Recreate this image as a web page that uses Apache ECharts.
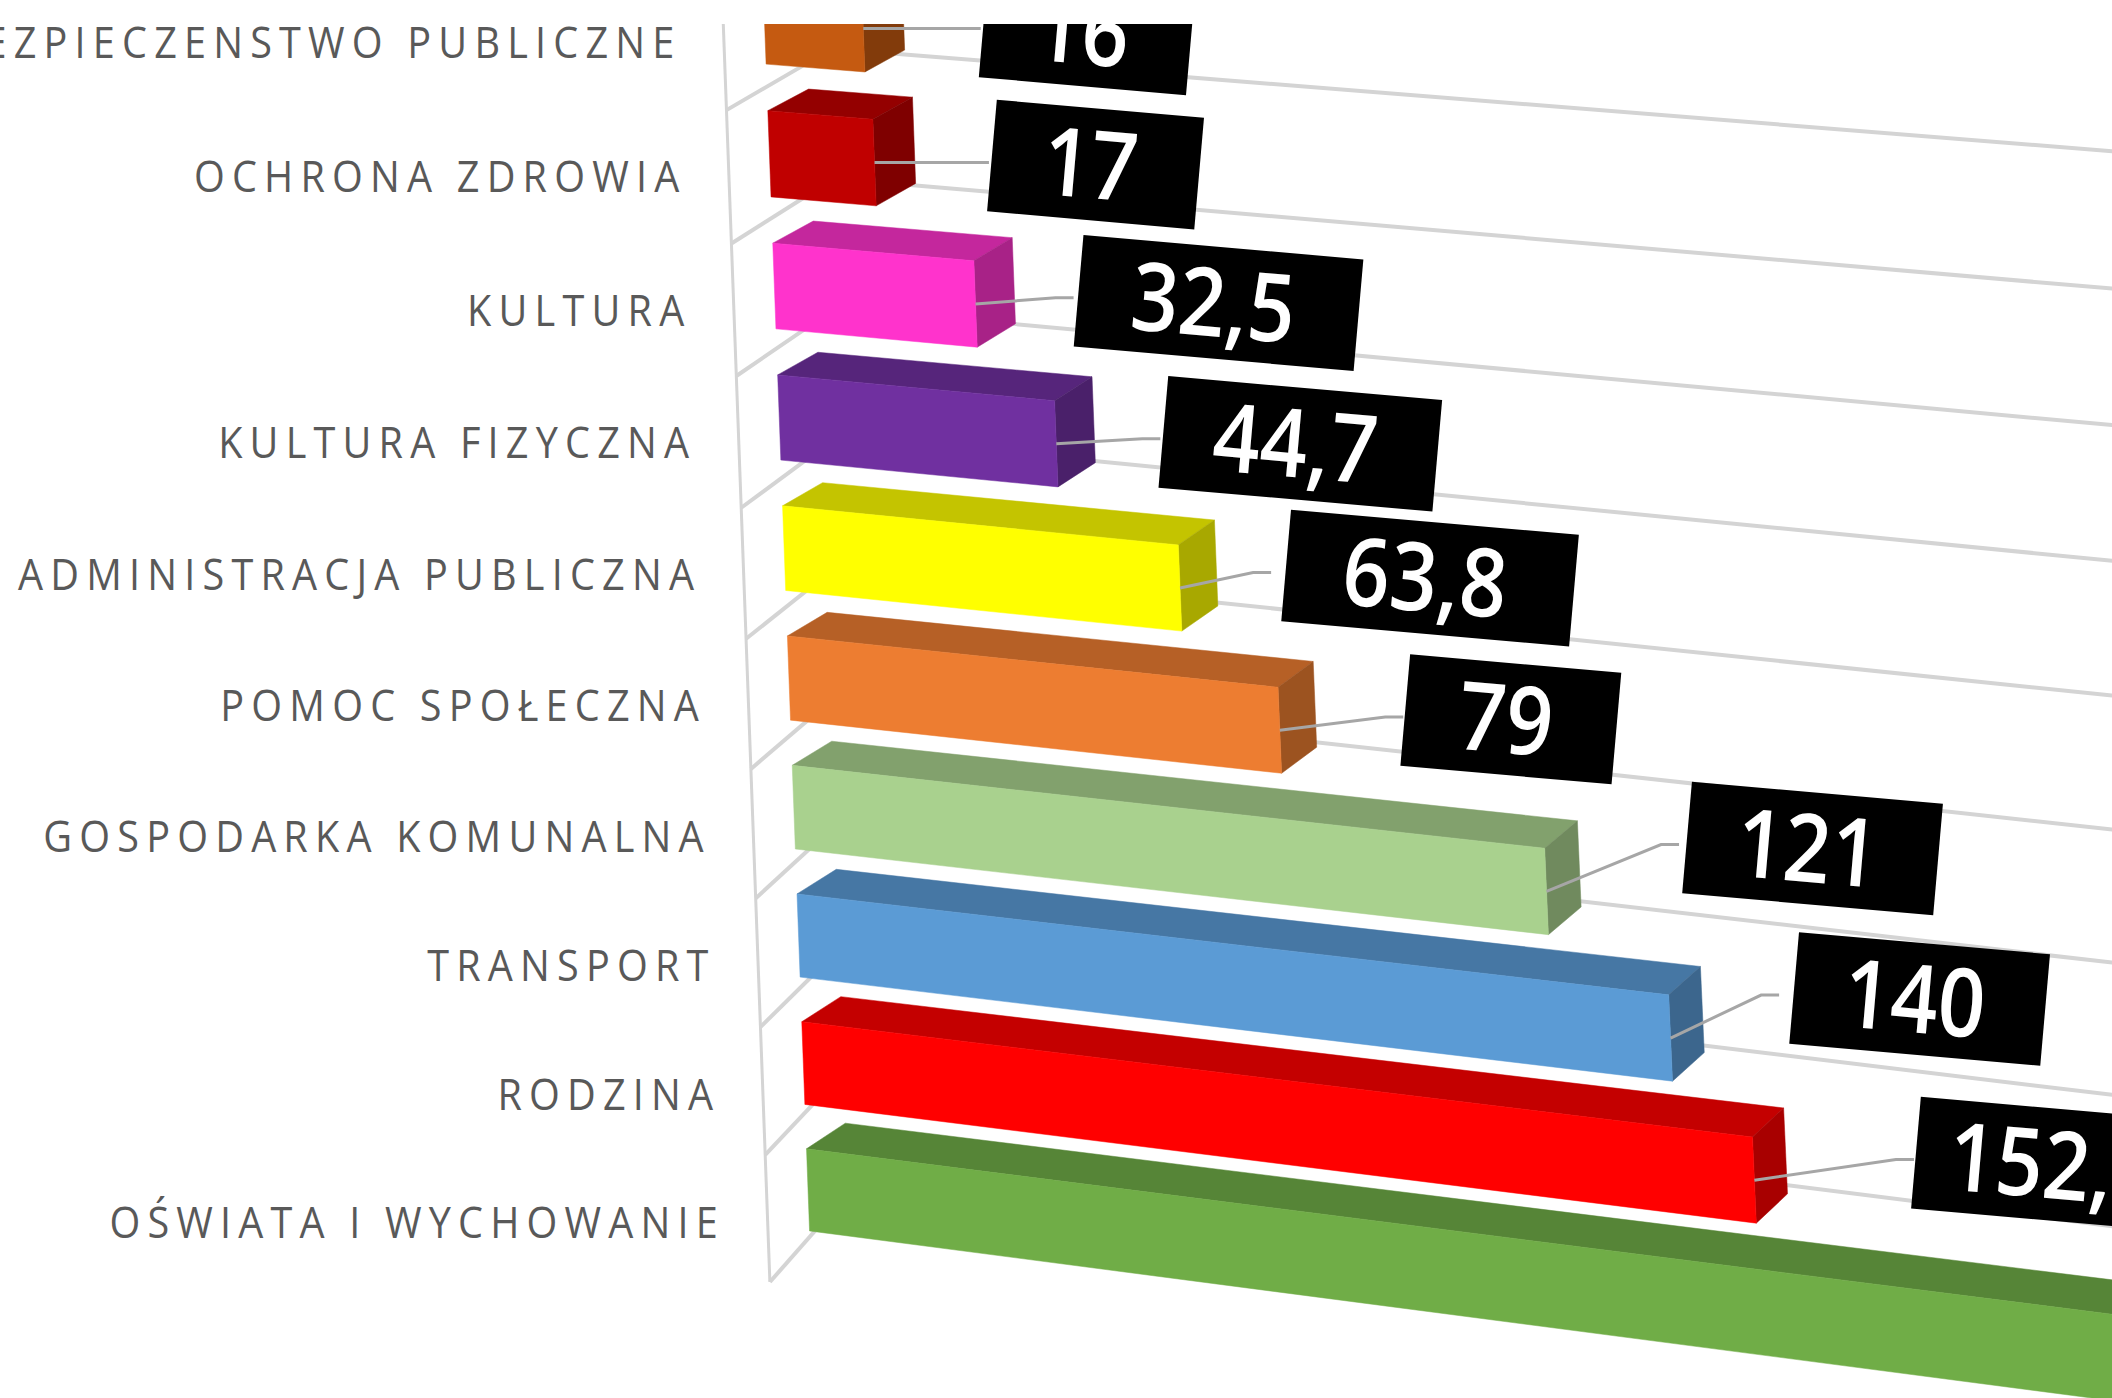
<!DOCTYPE html>
<html>
<head>
<meta charset="utf-8">
<title>Wydatki</title>
<style>
  html, body { margin: 0; background: #fff; overflow: hidden; }
  #main { width: 2112px; height: 1398px; }
  /* zrender has no letter spacing of its own, so the axis names get it here */
  #main text[fill="#595959"] { letter-spacing: 8px; }
</style>
<script src="https://cdn.jsdelivr.net/npm/echarts@6/dist/echarts.min.js"></script>
</head>
<body>
<div id="main"></div>
<script>
const categories = [
  'BEZPIECZEŃSTWO PUBLICZNE', 'OCHRONA ZDROWIA', 'KULTURA', 'KULTURA FIZYCZNA',
  'ADMINISTRACJA PUBLICZNA', 'POMOC SPOŁECZNA', 'GOSPODARKA KOMUNALNA',
  'TRANSPORT', 'RODZINA', 'OŚWIATA I WYCHOWANIE'
]
// the last bar runs off the picture, its value is only a lower guess
const values = [16, 17, 32.5, 44.7, 63.8, 79, 121, 140, 152.5, 300]
const barColors = [
  '#C55A11', '#C00000', '#FF33CC', '#7030A0', '#FFFF00',
  '#ED7D31', '#A9D18E', '#5B9BD5', '#FF0000', '#70AD47'
]
// labels were dragged by hand in the original: offset of each box from the bar end
const labelShift = [
  [224, 2], [221, 2], [243, -1], [244, 0], [250, -10],
  [231, -11], [266, -43], [249, -39], [305, -15], null
]
const labelWidth = [208, 208, 281, 275, 289, 212, 252, 252, 288, 0]
const leaderGap = [3, 3, 5, 3, 15, 2, 8, 15, 2, 0]

const axisMax = 200
const barFill = 0.65
const tilt = 5 * Math.PI / 180

// the plot is a flat grid pushed through perspective, one quad per depth plane
// corners: top left, top right, bottom right, bottom left of the grid
const frontPlane = makePlane([[762, -46], [1996, 46], [2060, 1417], [810.4, 1253]])
const backPlane = makePlane([[803, -67], [2023, 19], [2089, 1386], [849, 1227]])
const wallPlane = makePlane([[830, -82], [2050, 8.4], [2091, 1354], [851, 1190]])

function makePlane (q) {
  const [tl, tr, br, bl] = q
  return (u, w) => {
    // bands get a little thinner going down the chart
    const v = w + 0.03 * w * (1 - w)
    const top = [tl[0] + (tr[0] - tl[0]) * u, tl[1] + (tr[1] - tl[1]) * u]
    const bot = [bl[0] + (br[0] - bl[0]) * u, bl[1] + (br[1] - bl[1]) * u]
    return [top[0] + (bot[0] - top[0]) * v, top[1] + (bot[1] - top[1]) * v]
  }
}

function project (plane, sys, px, py) {
  return plane((px - sys.x) / sys.width, (py - sys.y) / sys.height)
}

// point on the slanted category axis, it sits left of the front plane
function axisPoint (sys, py) {
  const w = (py - sys.y) / sys.height
  const p = frontPlane(0, w)
  return [p[0] - 40.5, p[1] + 22 + 7 * w]
}

function shade (hex, k) {
  const n = parseInt(hex.slice(1), 16)
  const c = [n >> 16, (n >> 8) & 255, n & 255].map(v => Math.round(v * k))
  return `rgb(${c[0]},${c[1]},${c[2]})`
}

function poly (points, fill) {
  return {
    type: 'polygon',
    shape: { points },
    style: { fill, stroke: fill, lineWidth: 0.5 }
  }
}

function segment (a, b, width) {
  return {
    type: 'line',
    shape: { x1: a[0], y1: a[1], x2: b[0], y2: b[1] },
    style: { stroke: '#d4d4d4', lineWidth: width }
  }
}

function renderFrame (params, api) {
  const sys = params.coordSys
  const i = api.value(1)
  const band = api.size([0, 1])[1]
  const zero = api.coord([0, i])
  const far = api.coord([axisMax * 1.2, i])
  const children = []
  const edge = (py) => {
    const wallStart = project(wallPlane, sys, zero[0], py)
    children.push(segment(project(wallPlane, sys, far[0], py), wallStart, 4))
    children.push(segment(axisPoint(sys, py), wallStart, 4))
  }
  edge(zero[1] - band / 2)
  if (i === categories.length - 1) {
    edge(zero[1] + band / 2)
    children.push(segment(axisPoint(sys, sys.y), axisPoint(sys, sys.y + sys.height), 3))
  }
  return { type: 'group', children }
}

function renderBar (params, api) {
  const sys = params.coordSys
  const i = api.value(1)
  const end = api.coord([api.value(0), i])
  const x0 = api.coord([0, i])[0]
  const half = api.size([0, 1])[1] * barFill / 2
  const top = end[1] - half
  const bottom = end[1] + half
  const color = barColors[i]

  const f = (x, y) => project(frontPlane, sys, x, y)
  const b = (x, y) => project(backPlane, sys, x, y)
  return {
    type: 'group',
    children: [
      poly([f(x0, top), f(end[0], top), b(end[0], top), b(x0, top)], shade(color, 0.77)),
      poly([f(end[0], top), b(end[0], top), b(end[0], bottom), f(end[0], bottom)], shade(color, 0.66)),
      poly([f(x0, top), f(end[0], top), f(end[0], bottom), f(x0, bottom)], color)
    ]
  }
}

function renderCategory (params, api) {
  const sys = params.coordSys
  const i = api.value(1)
  const c = api.coord([0, i])
  const p = project(frontPlane, sys, c[0], c[1])
  return {
    type: 'text',
    x: p[0] - 83,
    y: p[1] + 20 + 1.2 * i,
    scaleX: 0.9,
    style: {
      text: categories[i],
      fill: '#595959',
      font: '400 44px "Open Sans"',
      align: 'right',
      verticalAlign: 'middle'
    }
  }
}

function renderLabel (params, api) {
  const i = api.value(1)
  const shift = labelShift[i]
  if (!shift) return null
  const sys = params.coordSys
  const end = api.coord([api.value(0), i])
  const anchor = project(frontPlane, sys, end[0], end[1])
  const cx = anchor[0] + shift[0]
  const cy = anchor[1] + shift[1]
  const w = labelWidth[i]
  // left middle of the turned box, the leader stops just short of it
  const lx = cx - w / 2 * Math.cos(tilt) - leaderGap[i]
  const ly = cy - w / 2 * Math.sin(tilt) + 7
  return {
    type: 'group',
    children: [
      {
        type: 'polyline',
        shape: { points: [anchor, [lx - 18, ly], [lx, ly]] },
        style: { stroke: '#a6a6a6', lineWidth: 3, fill: null }
      },
      {
        type: 'group',
        x: cx,
        y: cy,
        rotation: -tilt,
        children: [
          {
            type: 'rect',
            shape: { x: -w / 2, y: -56, width: w, height: 112 },
            style: { fill: '#000' }
          },
          {
            type: 'text',
            x: -5,
            y: -3,
            scaleX: 0.87,
            style: {
              text: String(values[i]).replace('.', ','),
              fill: '#fff',
              font: '600 95px "Open Sans"',
              align: 'center',
              verticalAlign: 'middle'
            }
          }
        ]
      }
    ]
  }
}

const seriesData = values.map((v, i) => [v, i])
const customSeries = (name, z, renderItem) => ({
  name,
  type: 'custom',
  z,
  silent: true,
  coordinateSystem: 'cartesian2d',
  encode: { x: 0, y: 1 },
  data: seriesData,
  renderItem
})

const chart = echarts.init(document.getElementById('main'), null, { renderer: 'svg' })
chart.setOption({
  animation: false,
  backgroundColor: '#fff',
  grid: { left: 100, top: 100, width: 1900, height: 1200 },
  xAxis: { type: 'value', min: 0, max: axisMax, interval: 50, show: false },
  yAxis: { type: 'category', data: categories, inverse: true, show: false },
  series: [
    customSeries('siatka', 2, renderFrame),
    customSeries('nazwy', 3, renderCategory),
    customSeries('wartości', 4, renderBar),
    customSeries('etykiety', 5, renderLabel)
  ],
  // the source picture is cropped along its top edge
  graphic: [{
    type: 'rect',
    z: 100,
    silent: true,
    shape: { x: 0, y: 0, width: 2112, height: 24 },
    style: { fill: '#fff' }
  }]
})
</script>
</body>
</html>
